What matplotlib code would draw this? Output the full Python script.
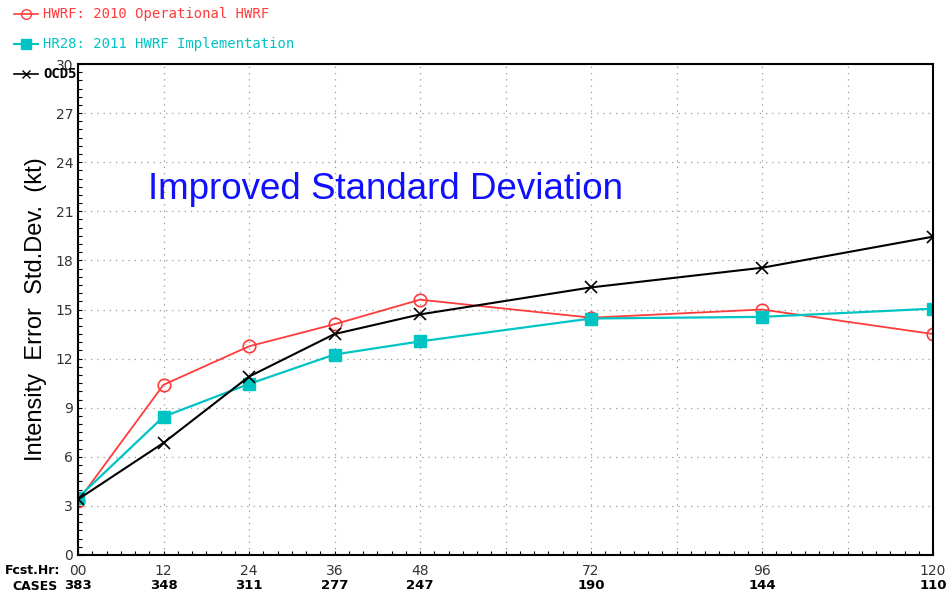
import matplotlib
matplotlib.use("Agg")
import matplotlib.pyplot as plt
from matplotlib.lines import Line2D
from matplotlib.ticker import MultipleLocator

# forecast hour and homogeneous case counts
hours = [0, 12, 24, 36, 48, 72, 96, 120]
cases = [383, 348, 311, 277, 247, 190, 144, 110]

# intensity error standard deviation (kt)
hwrf = [3.3, 10.4, 12.75, 14.1, 15.6, 14.5, 15.0, 13.5]
hr28 = [3.5, 8.45, 10.45, 12.25, 13.05, 14.45, 14.55, 15.05]
ocd5 = [3.4, 6.85, 10.9, 13.5, 14.7, 16.35, 17.55, 19.45]

names = ["HWRF: 2010 Operational HWRF", "HR28: 2011 HWRF Implementation", "OCD5"]
RED, CYAN, BLACK = "#ff3b3b", "#00c4c4", "#000000"

W, H = 947, 593
fig = plt.figure(figsize=(W / 100, H / 100), dpi=100)
ax = fig.add_axes([78 / W, 1 - 555 / H, (933 - 78) / W, (555 - 64) / H])

ax.plot(hours, hwrf, color=RED, lw=1.3, marker="o", ms=9, mfc="none", mec=RED, mew=1.2)
ax.plot(hours, hr28, color=CYAN, lw=1.6, marker="s", ms=9, mfc=CYAN, mec=CYAN)
ax.plot(hours, ocd5, color=BLACK, lw=1.5, marker="x", ms=8, mew=1.2)

ax.set_xlim(0, 120)
ax.set_ylim(0, 30)
ax.set_yticks(range(0, 31, 3))
ax.set_xticks(range(0, 121, 12))
ax.xaxis.set_minor_locator(MultipleLocator(2))
ax.yaxis.set_minor_locator(MultipleLocator(0.5))
ax.tick_params(which="both", direction="in", length=3, width=0.8, labelsize=10,
               labelcolor="#333333")
ax.tick_params(axis="x", which="major", labelbottom=False)
ax.grid(True, which="major", ls=(0, (1, 4)), color="#999999", lw=0.9)
for s in ax.spines.values():
    s.set_linewidth(1.5)

ax.set_ylabel("Intensity  Error  Std.Dev.  (kt)", fontsize=17, family="Liberation Sans",
              labelpad=6)
ax.text(0.082, 0.745, "Improved Standard Deviation", transform=ax.transAxes,
        color="#1010ff", fontsize=26.5, family="Liberation Sans", va="center")

# forecast-hour and case-count rows under the axis
trans = ax.get_xaxis_transform()
for h, n in zip(hours, cases):
    ax.text(h, -0.033, f"{h:02d}", transform=trans, ha="center", va="center",
            fontsize=10, color="#333333", clip_on=False)
    ax.text(h, -0.063, str(n), transform=trans, ha="center", va="center",
            fontsize=9.5, fontweight="bold", clip_on=False)
fig.text(60 / W, 1 - 571 / H, "Fcst.Hr:", ha="right", va="center", fontsize=9,
         fontweight="bold")
fig.text(58 / W, 1 - 586 / H, "CASES", ha="right", va="center", fontsize=9,
         fontweight="bold")

# legend drawn as in the original, stacked in the top-left corner
styles = [dict(color=RED, marker="o", mfc="none", mec=RED, ms=7, lw=1.2),
          dict(color=CYAN, marker="s", mfc=CYAN, mec=CYAN, ms=7, lw=1.5),
          dict(color=BLACK, marker="x", ms=6, lw=1.2)]
for i, (name, st) in enumerate(zip(names, styles)):
    y = 1 - (14 + 30 * i) / H
    fig.add_artist(Line2D([14 / W, 26 / W, 38 / W], [y, y, y], transform=fig.transFigure,
                          markevery=[1], **st))
    fig.text(43 / W, y, name, color=st["color"], fontsize=10, va="center",
             family="DejaVu Sans Mono", fontweight="bold" if i == 2 else "normal")

fig.savefig("out.png", dpi=100)
